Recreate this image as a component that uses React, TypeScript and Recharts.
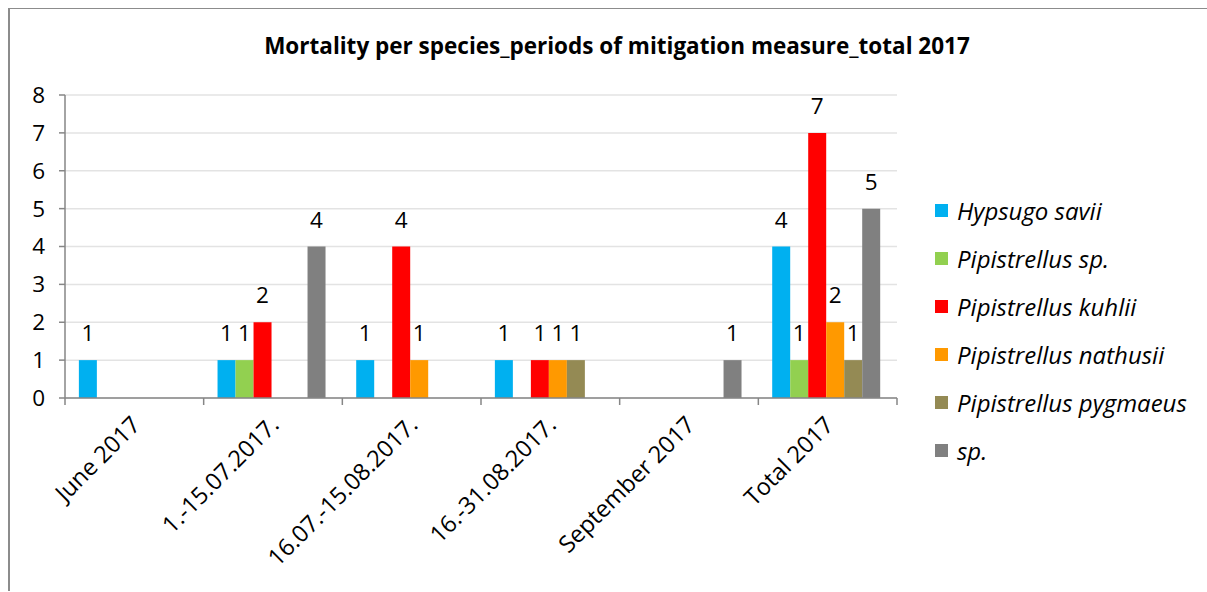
import React from 'react';
import { BarChart, Bar, XAxis, YAxis, CartesianGrid, LabelList } from 'recharts';

const periods = ['June 2017', '1.-15.07.2017.', '16.07.-15.08.2017.', '16.-31.08.2017.', 'September 2017', 'Total 2017'];
const species = ['Hypsugo savii', 'Pipistrellus sp.', 'Pipistrellus kuhlii', 'Pipistrellus nathusii', 'Pipistrellus pygmaeus', 'sp.'];
const colors = ['#00B0F0', '#92D050', '#FF0000', '#FF9900', '#948A54', '#808080'];

const hypsugoSavii = [1, 1, 1, 1, 0, 4];
const pipistrellusSp = [0, 1, 0, 0, 0, 1];
const pipistrellusKuhlii = [0, 2, 4, 1, 0, 7];
const pipistrellusNathusii = [0, 0, 1, 1, 0, 2];
const pipistrellusPygmaeus = [0, 0, 0, 1, 0, 1];
const unknownSp = [0, 4, 0, 0, 1, 5];

const yTicks = [0, 1, 2, 3, 4, 5, 6, 7, 8];

const seriesValues = [hypsugoSavii, pipistrellusSp, pipistrellusKuhlii, pipistrellusNathusii, pipistrellusPygmaeus, unknownSp];

const data = periods.map((p, i) => {
  const row: Record<string, any> = { period: p };
  species.forEach((s, j) => {
    row['s' + j] = seriesValues[j][i];
  });
  return row;
});

const FONT = '"Open Sans", Lato, sans-serif';
const CHART_W = 1199;
const CHART_H = 582;
const MARGIN = { top: 86, right: 312, bottom: 0, left: 0 };
const Y_W = 55;
const PLOT_H = 303;
const PLOT_W = CHART_W - MARGIN.left - MARGIN.right - Y_W;

// x tick: rotated label plus a tick mark at the category boundary (Excel style)
const CategoryTick = (props: any) => {
  const { x, y, payload, index } = props;
  const band = PLOT_W / periods.length;
  const tx = x + 1;
  const ty = y + 22;
  return (
    <g>
      <line x1={x - band / 2} y1={y} x2={x - band / 2} y2={y + 7} stroke="#868686" strokeWidth={1.5} />
      {index === periods.length - 1 && (
        <line x1={x + band / 2} y1={y} x2={x + band / 2} y2={y + 7} stroke="#868686" strokeWidth={1.5} />
      )}
      <text
        x={tx}
        y={ty}
        transform={`rotate(-45 ${tx} ${ty})`}
        textAnchor="end"
        dominantBaseline="central"
        fontFamily={FONT}
        fontSize={23.5}
        fill="#000"
      >
        {payload.value}
      </text>
    </g>
  );
};

const hideZero = (v: any) => (v ? v : '');

export default function App() {
  return (
    <div
      style={{
        position: 'fixed',
        left: 8,
        top: 8,
        width: CHART_W,
        height: CHART_H,
        borderTop: '1.5px solid #8c8c8c',
        borderLeft: '2px solid #8c8c8c',
        background: '#fff',
        fontFamily: FONT,
        overflow: 'hidden',
      }}
    >
      <div
        style={{
          position: 'absolute',
          top: 21,
          left: 0,
          width: 1214,
          textAlign: 'center',
          fontWeight: 'bold',
          fontSize: 22.5,
          color: '#000',
        }}
      >
        Mortality per species_periods of mitigation measure_total 2017
      </div>
      <BarChart width={CHART_W} height={CHART_H} data={data} margin={MARGIN} barGap={0} barCategoryGap="10%">
        <CartesianGrid vertical={false} stroke="#e3e3e3" strokeWidth={1.5} />
        <XAxis
          dataKey="period"
          interval={0}
          height={CHART_H - MARGIN.top - PLOT_H}
          tickSize={0}
          tickMargin={0}
          tickLine={false}
          axisLine={{ stroke: '#868686', strokeWidth: 1.5 }}
          tick={<CategoryTick />}
        />
        <YAxis
          width={Y_W}
          domain={[0, 8]}
          ticks={yTicks}
          interval={0}
          tickSize={6}
          tickMargin={14}
          axisLine={{ stroke: '#868686', strokeWidth: 1.5 }}
          tickLine={{ stroke: '#868686', strokeWidth: 1.5 }}
          tick={{ fontSize: 22.5, fill: '#000', fontFamily: FONT }}
        />
        {species.map((s, j) => (
          <Bar key={s} dataKey={'s' + j} name={s} fill={colors[j]} isAnimationActive={false}>
            <LabelList
              dataKey={'s' + j}
              position="top"
              offset={19}
              formatter={hideZero}
              style={{ fontSize: 22.5, fill: '#000', fontFamily: FONT }}
            />
          </Bar>
        ))}
      </BarChart>
      <div style={{ position: 'absolute', left: 925, top: 177 }}>
        {species.map((s, j) => (
          <div key={s} style={{ display: 'flex', alignItems: 'center', height: 48 }}>
            <div style={{ width: 13, height: 13, background: colors[j], marginRight: 9 }} />
            <span style={{ fontStyle: 'italic', fontSize: 24, color: '#000', whiteSpace: 'nowrap' }}>{s}</span>
          </div>
        ))}
      </div>
    </div>
  );
}
